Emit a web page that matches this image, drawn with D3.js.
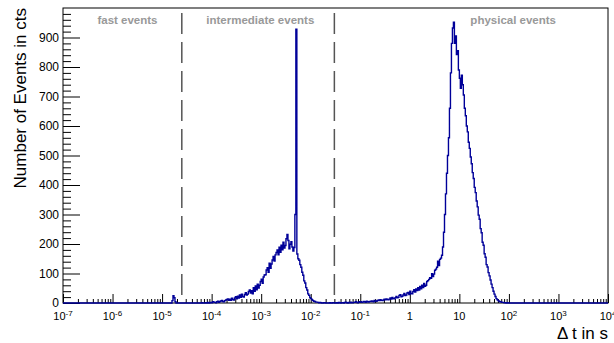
<!DOCTYPE html>
<html>
<head>
<meta charset="utf-8">
<script src="https://cdn.jsdelivr.net/npm/d3@7"></script>
<style>
  body { margin: 0; background: #ffffff; }
  text { font-family: "Liberation Sans", Arial, Helvetica, sans-serif; }
</style>
</head>
<body>
<script>
// Histogram of time differences, log binning: 50 bins per decade from 1e-5 s.
const binStart = -5;
const binsPerDecade = 50;
const counts = [
  0, 0, 0, 0, 0, 0, 0, 0, 0, 0,
  8, 25, 18, 4,
  0, 0, 0, 0, 0, 0, 0, 0, 0, 0, 0, 0, 0, 0, 0, 0, 0, 0, 0, 0, 0, 0, 0, 0,
  0, 0, 1, 0, 0, 0, 1, 0, 2, 0, 1, 2,
  1, 4, 3, 2, 1, 4, 6, 2, 5, 7, 9, 5, 4, 8, 10, 12, 14, 9, 13, 9,
  16, 12, 10, 17, 21, 14, 23, 17, 27, 19, 30, 22, 20, 29, 35, 27, 30, 39, 44, 34,
  42, 31, 52, 40, 58, 45, 64, 51, 60, 73, 81, 67, 88, 95, 96, 112, 120, 104, 135, 118,
  132, 146, 158, 142, 163, 171, 180, 163, 189, 172, 196, 180, 206, 186, 195, 218, 232, 212, 184, 199,
  208, 190, 176, 188, 300, 928, 166, 150, 145, 130, 121, 104, 94, 75, 68, 52, 44, 31, 26, 18,
  15, 11, 8, 6, 5, 3, 3, 2, 1, 2, 1, 0, 0, 1, 1, 0, 0, 0, 0, 1,
  0, 0, 1, 1, 0, 0, 1, 0, 2, 1, 0, 1, 1, 0, 2, 3, 1, 0, 2, 1,
  3, 1, 1, 2, 2, 4, 3, 1, 2, 4, 4, 2, 3, 5, 4, 2, 6, 4, 3, 5,
  5, 7, 6, 4, 9, 7, 6, 8, 10, 8, 11, 9, 8, 10, 13, 11, 14, 12, 11, 13,
  17, 13, 19, 15, 14, 18, 22, 18, 19, 26, 28, 21, 23, 27, 32, 25, 27, 34, 36, 29,
  40, 32, 31, 39, 45, 37, 48, 42, 52, 44, 56, 48, 60, 52, 66, 57, 60, 73, 76, 80,
  86, 84, 99, 90, 98, 111, 115, 121, 142, 127, 148, 152, 162, 190, 240, 300, 370, 440, 500, 560,
  660, 780, 880, 932, 952, 880, 905, 842, 855, 790, 762, 728, 772, 740, 705, 660, 635, 600, 580, 545,
  524, 495, 472, 442, 422, 392, 374, 346, 326, 298, 284, 252, 238, 206, 196, 167, 155, 130, 122, 103,
  92, 78, 64, 52, 40, 30, 22, 15, 11, 8, 5, 4, 3, 2, 2, 1, 1, 0, 1, 0
];

// Axes.
const xDomain = [1e-7, 1e4];
const yDomain = [0, 1000];
const yTicks = [0, 100, 200, 300, 400, 500, 600, 700, 800, 900];
const xTickExponents = [-7, -6, -5, -4, -3, -2, -1, 0, 1, 2, 3, 4];

// Event classes.
const regionBorders = [2.5e-5, 3e-2];
const regionNames = ['fast events', 'intermediate events', 'physical events'];
const regionLabelAt = [2e-6, 9.6e-4, 1.22e2];

const xTitle = 'Δ t in s';
const yTitle = 'Number of Events in cts';

const width = 614;
const height = 343;
const plotLeft = 63, plotRight = 608, plotTop = 8, plotBottom = 303;

const xScale = d3.scaleLog().domain(xDomain).range([plotLeft, plotRight]);
const yScale = d3.scaleLinear().domain(yDomain).range([plotBottom, plotTop]);

const svg = d3.select('body')
  .append('svg')
  .attr('width', width)
  .attr('height', height)
  .style('background-color', '#ffffff');

// Y axis, ticks pointing into the frame.
const yMinor = d3.range(20, 1000, 20).filter((v) => v % 100 !== 0);
svg.append('g')
  .attr('transform', 'translate(' + plotLeft + ',0)')
  .call(d3.axisLeft(yScale).tickValues(yMinor).tickSize(-8).tickFormat(''))
  .call((g) => g.select('.domain').remove());

svg.append('g')
  .attr('id', 'y-axis')
  .attr('transform', 'translate(' + plotLeft + ',0)')
  .call(d3.axisLeft(yScale).tickValues(yTicks).tickSize(-17).tickPadding(4))
  .call((g) => g.select('.domain').remove())
  .call((g) => g.selectAll('text')
    .style('font-size', '12px')
    .style('font-family', '"Liberation Sans", Arial, sans-serif')
    .attr('fill', '#000'));

// X axis, log decades.
const xMinor = [];
for (let d = -7; d < 4; d++)
{
  for (let k = 2; k <= 9; k++)
  {
    xMinor.push(k * Math.pow(10, d));
  }
}
svg.append('g')
  .attr('transform', 'translate(0,' + plotBottom + ')')
  .call(d3.axisBottom(xScale).tickValues(xMinor).tickSize(-4).tickFormat(''))
  .call((g) => g.select('.domain').remove());

svg.append('g')
  .attr('id', 'x-axis')
  .attr('transform', 'translate(0,' + plotBottom + ')')
  .call(d3.axisBottom(xScale).tickValues(xTickExponents.map((e) => Math.pow(10, e))).tickSize(-9).tickFormat(''))
  .call((g) => g.select('.domain').remove());

const xLabels = svg.append('g')
  .selectAll('text')
  .data(xTickExponents)
  .enter()
  .append('text')
  .attr('x', (e) => xScale(Math.pow(10, e)))
  .attr('y', 320)
  .attr('text-anchor', 'middle')
  .style('font-size', '11px')
  .attr('fill', '#000');

xLabels.each(function (e)
{
  const t = d3.select(this);
  if (e === 0)
  {
    t.text('1');
  }
  else if (e === 1)
  {
    t.text('10');
  }
  else
  {
    t.append('tspan').text('10');
    t.append('tspan')
      .attr('dy', -4.5)
      .style('font-size', '8px')
      .text(e);
  }
});

// Frame.
svg.append('rect')
  .attr('x', plotLeft)
  .attr('y', plotTop)
  .attr('width', plotRight - plotLeft)
  .attr('height', plotBottom - plotTop)
  .attr('fill', 'none')
  .attr('stroke', '#000')
  .attr('stroke-width', 1);

// Dashed class borders.
svg.append('g')
  .selectAll('line')
  .data(regionBorders)
  .enter()
  .append('line')
  .attr('x1', (d) => xScale(d))
  .attr('x2', (d) => xScale(d))
  .attr('y1', plotTop)
  .attr('y2', plotBottom)
  .attr('stroke', '#555')
  .attr('stroke-width', 1.5)
  .attr('stroke-dasharray', '21,8')
  .attr('stroke-dashoffset', 24);

svg.append('g')
  .selectAll('text')
  .data(regionNames)
  .enter()
  .append('text')
  .attr('x', (d, i) => xScale(regionLabelAt[i]))
  .attr('y', 23.5)
  .attr('text-anchor', 'middle')
  .style('font-size', '11.5px')
  .style('font-weight', 'bold')
  .attr('fill', '#999')
  .text((d) => d);

// Histogram outline.
const points = [{ x: xDomain[0], y: 0 }];
points.push({ x: Math.pow(10, binStart), y: 0 });
counts.forEach((c, i) =>
{
  const lo = Math.pow(10, binStart + i / binsPerDecade);
  const hi = Math.pow(10, binStart + (i + 1) / binsPerDecade);
  points.push({ x: lo, y: c });
  points.push({ x: hi, y: c });
});
points.push({ x: Math.pow(10, binStart + counts.length / binsPerDecade), y: 0 });
points.push({ x: xDomain[1], y: 0 });

svg.append('clipPath')
  .attr('id', 'plot-clip')
  .append('rect')
  .attr('x', plotLeft)
  .attr('y', plotTop)
  .attr('width', plotRight - plotLeft)
  .attr('height', plotBottom - plotTop + 2);

const line = d3.line()
  .x((d) => xScale(d.x))
  .y((d) => yScale(d.y));

svg.append('path')
  .datum(points)
  .attr('clip-path', 'url(#plot-clip)')
  .attr('d', line)
  .attr('fill', 'none')
  .attr('stroke', '#000099')
  .attr('stroke-width', 1.4);

// Axis titles.
svg.append('text')
  .attr('x', plotRight)
  .attr('y', 339)
  .attr('text-anchor', 'end')
  .style('font-size', '17px')
  .attr('fill', '#000')
  .text(xTitle);

svg.append('text')
  .attr('transform', 'translate(26,' + plotTop + ') rotate(-90)')
  .attr('text-anchor', 'end')
  .style('font-size', '17px')
  .attr('fill', '#000')
  .text(yTitle);
</script>
</body>
</html>
